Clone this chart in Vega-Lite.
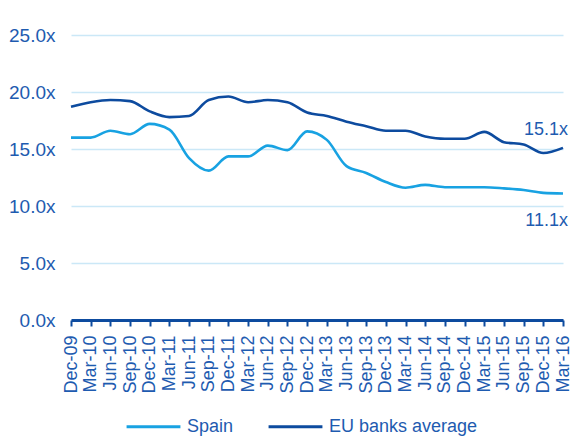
{
  "$schema": "https://vega.github.io/schema/vega-lite/v6.json",
  "width": 492,
  "height": 285,
  "autosize": {"type": "none"},
  "padding": {"left": 71, "top": 35, "right": 10, "bottom": 117},
  "background": "white",
  "config": {
    "view": {"stroke": null},
    "font": "Liberation Sans",
    "text": {"font": "Liberation Sans"}
  },
  "datasets": {
    "pe": [
      {"Date": "Dec-09", "Series": "Spain", "Value": 16.0},
      {"Date": "Mar-10", "Series": "Spain", "Value": 16.0},
      {"Date": "Jun-10", "Series": "Spain", "Value": 16.6},
      {"Date": "Sep-10", "Series": "Spain", "Value": 16.3},
      {"Date": "Dec-10", "Series": "Spain", "Value": 17.2},
      {"Date": "Mar-11", "Series": "Spain", "Value": 16.7},
      {"Date": "Jun-11", "Series": "Spain", "Value": 14.2},
      {"Date": "Sep-11", "Series": "Spain", "Value": 13.1},
      {"Date": "Dec-11", "Series": "Spain", "Value": 14.35},
      {"Date": "Mar-12", "Series": "Spain", "Value": 14.35},
      {"Date": "Jun-12", "Series": "Spain", "Value": 15.3},
      {"Date": "Sep-12", "Series": "Spain", "Value": 14.9},
      {"Date": "Dec-12", "Series": "Spain", "Value": 16.55},
      {"Date": "Mar-13", "Series": "Spain", "Value": 15.8},
      {"Date": "Jun-13", "Series": "Spain", "Value": 13.5},
      {"Date": "Sep-13", "Series": "Spain", "Value": 12.9},
      {"Date": "Dec-13", "Series": "Spain", "Value": 12.1},
      {"Date": "Mar-14", "Series": "Spain", "Value": 11.6},
      {"Date": "Jun-14", "Series": "Spain", "Value": 11.85},
      {"Date": "Sep-14", "Series": "Spain", "Value": 11.65},
      {"Date": "Dec-14", "Series": "Spain", "Value": 11.65},
      {"Date": "Mar-15", "Series": "Spain", "Value": 11.65},
      {"Date": "Jun-15", "Series": "Spain", "Value": 11.55},
      {"Date": "Sep-15", "Series": "Spain", "Value": 11.4},
      {"Date": "Dec-15", "Series": "Spain", "Value": 11.15},
      {"Date": "Mar-16", "Series": "Spain", "Value": 11.1},
      {"Date": "Dec-09", "Series": "EU banks average", "Value": 18.7},
      {"Date": "Mar-10", "Series": "EU banks average", "Value": 19.1},
      {"Date": "Jun-10", "Series": "EU banks average", "Value": 19.3},
      {"Date": "Sep-10", "Series": "EU banks average", "Value": 19.2},
      {"Date": "Dec-10", "Series": "EU banks average", "Value": 18.3},
      {"Date": "Mar-11", "Series": "EU banks average", "Value": 17.8},
      {"Date": "Jun-11", "Series": "EU banks average", "Value": 17.9},
      {"Date": "Sep-11", "Series": "EU banks average", "Value": 19.3},
      {"Date": "Dec-11", "Series": "EU banks average", "Value": 19.6},
      {"Date": "Mar-12", "Series": "EU banks average", "Value": 19.1},
      {"Date": "Jun-12", "Series": "EU banks average", "Value": 19.3},
      {"Date": "Sep-12", "Series": "EU banks average", "Value": 19.1},
      {"Date": "Dec-12", "Series": "EU banks average", "Value": 18.2},
      {"Date": "Mar-13", "Series": "EU banks average", "Value": 17.9},
      {"Date": "Jun-13", "Series": "EU banks average", "Value": 17.4},
      {"Date": "Sep-13", "Series": "EU banks average", "Value": 17.0},
      {"Date": "Dec-13", "Series": "EU banks average", "Value": 16.6},
      {"Date": "Mar-14", "Series": "EU banks average", "Value": 16.6},
      {"Date": "Jun-14", "Series": "EU banks average", "Value": 16.1},
      {"Date": "Sep-14", "Series": "EU banks average", "Value": 15.9},
      {"Date": "Dec-14", "Series": "EU banks average", "Value": 15.9},
      {"Date": "Mar-15", "Series": "EU banks average", "Value": 16.5},
      {"Date": "Jun-15", "Series": "EU banks average", "Value": 15.6},
      {"Date": "Sep-15", "Series": "EU banks average", "Value": 15.4},
      {"Date": "Dec-15", "Series": "EU banks average", "Value": 14.65},
      {"Date": "Mar-16", "Series": "EU banks average", "Value": 15.1}
    ]
  },
  "data": {"name": "pe"},
  "encoding": {
    "x": {
      "field": "Date",
      "type": "ordinal",
      "sort": null,
      "scale": {"type": "point", "padding": 0},
      "axis": {
        "title": null,
        "labelAngle": -90,
        "labelAlign": "right",
        "labelBaseline": "middle",
        "labelFont": "Liberation Sans",
        "labelFontSize": 18,
        "labelColor": "#1E5BB0",
        "labelPadding": 9,
        "domainColor": "#0D4B9F",
        "domainWidth": 3,
        "tickColor": "#0D4B9F",
        "tickWidth": 2,
        "tickSize": 6,
        "grid": false
      }
    },
    "y": {
      "field": "Value",
      "type": "quantitative",
      "scale": {"domain": [0, 25], "nice": false, "zero": true},
      "axis": {
        "title": null,
        "values": [0, 5, 10, 15, 20, 25],
        "labelExpr": "format(datum.value, '.1f') + 'x'",
        "labelFont": "Liberation Sans",
        "labelFontSize": 19,
        "labelColor": "#1E5BB0",
        "labelPadding": 16,
        "ticks": false,
        "domain": false,
        "grid": true,
        "gridColor": "#CBE8F7",
        "gridWidth": 1.5
      }
    }
  },
  "layer": [
    {
      "mark": {"type": "line", "interpolate": "monotone", "strokeWidth": 2.6},
      "encoding": {
        "color": {
          "field": "Series",
          "type": "nominal",
          "sort": ["Spain", "EU banks average"],
          "scale": {"domain": ["Spain", "EU banks average"], "range": ["#18A2E2", "#0D4B9F"]},
          "legend": {
            "title": null,
            "orient": "none",
            "direction": "horizontal",
            "legendX": 54,
            "legendY": 363,
            "symbolType": "stroke",
            "symbolSize": 2900,
            "symbolStrokeWidth": 3,
            "labelFont": "Liberation Sans",
            "labelFontSize": 18,
            "labelColor": "#1E5BB0",
            "labelOffset": 5,
            "columnPadding": 28
          }
        }
      }
    },
    {
      "transform": [
        {"filter": "datum.Date === 'Mar-16' && datum.Series === 'EU banks average'"},
        {"calculate": "format(datum.Value, '.1f') + 'x'", "as": "label"}
      ],
      "mark": {"type": "text", "align": "right", "baseline": "middle", "dx": 5, "dy": -18, "fontSize": 18, "font": "Liberation Sans", "color": "#1E5BB0"},
      "encoding": {"text": {"field": "label"}}
    },
    {
      "transform": [
        {"filter": "datum.Date === 'Mar-16' && datum.Series === 'Spain'"},
        {"calculate": "format(datum.Value, '.1f') + 'x'", "as": "label"}
      ],
      "mark": {"type": "text", "align": "right", "baseline": "middle", "dx": 5, "dy": 28, "fontSize": 18, "font": "Liberation Sans", "color": "#1E5BB0"},
      "encoding": {"text": {"field": "label"}}
    }
  ]
}
